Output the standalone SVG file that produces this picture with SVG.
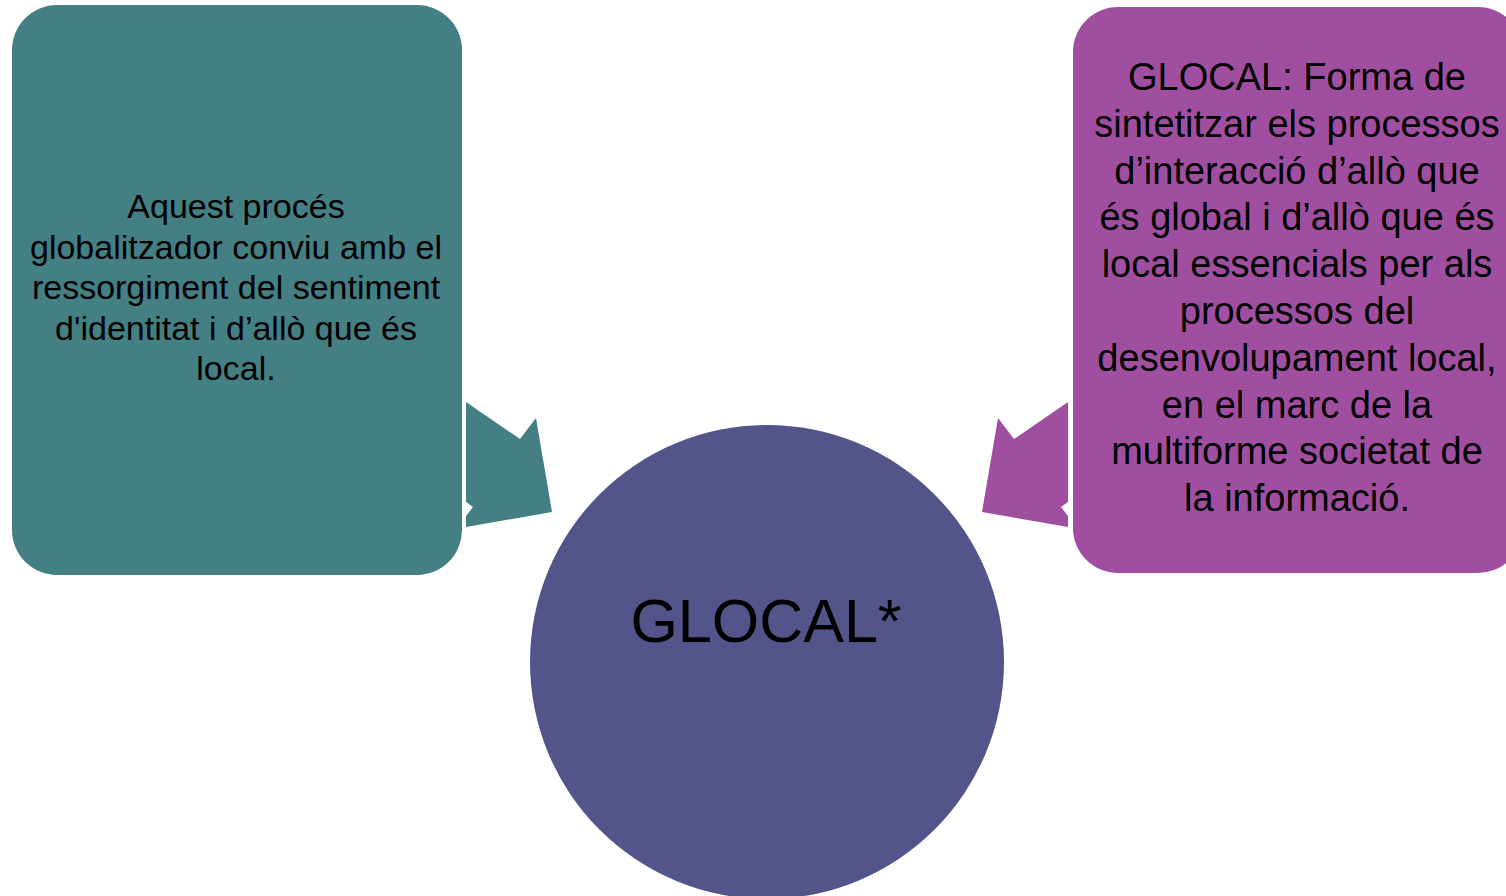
<svg xmlns="http://www.w3.org/2000/svg" width="1506" height="896" viewBox="0 0 1506 896">
<style>
text{font-family:"Liberation Sans",Arial,sans-serif;fill:#000;text-anchor:middle}
.l{font-size:34px}
.r{font-size:38px}
.c{font-size:61px}
</style>
<rect width="1506" height="896" fill="#fff"/>
<g id="connectors">
<polygon fill="#447F84" points="466,402 520,439 536,418 552,512 466,527 466,516 473,507 466,502"/>
<polygon fill="#A04FA0" points="1068,402 1014,439 998,418 982,512 1068,527 1068,516 1061,507 1068,502"/>
</g>
<g id="node-left">
<rect x="12" y="5" width="450" height="570" rx="45" fill="#447F84"/>
<text class="l" x="236" y="218">Aquest procés</text>
<text class="l" x="236" y="258.5">globalitzador conviu amb el</text>
<text class="l" x="236" y="299">ressorgiment del sentiment</text>
<text class="l" x="236" y="339.5">d'identitat i d’allò que és</text>
<text class="l" x="236" y="380">local.</text>
</g>
<g id="node-right">
<rect x="1073" y="7" width="450" height="566" rx="45" fill="#A04FA0"/>
<text class="r" x="1297" y="90">GLOCAL: Forma de</text>
<text class="r" x="1297" y="136.8">sintetitzar els processos</text>
<text class="r" x="1297" y="183.6">d’interacció d’allò que</text>
<text class="r" x="1297" y="230.4">és global i d’allò que és</text>
<text class="r" x="1297" y="277.2">local essencials per als</text>
<text class="r" x="1297" y="324">processos del</text>
<text class="r" x="1297" y="370.8">desenvolupament local,</text>
<text class="r" x="1297" y="417.6">en el marc de la</text>
<text class="r" x="1297" y="464.4">multiforme societat de</text>
<text class="r" x="1297" y="511.2">la informació.</text>
</g>
<g id="node-center">
<circle cx="767" cy="662" r="237" fill="#535489"/>
<text class="c" x="766" y="642">GLOCAL*</text>
</g>
</svg>
